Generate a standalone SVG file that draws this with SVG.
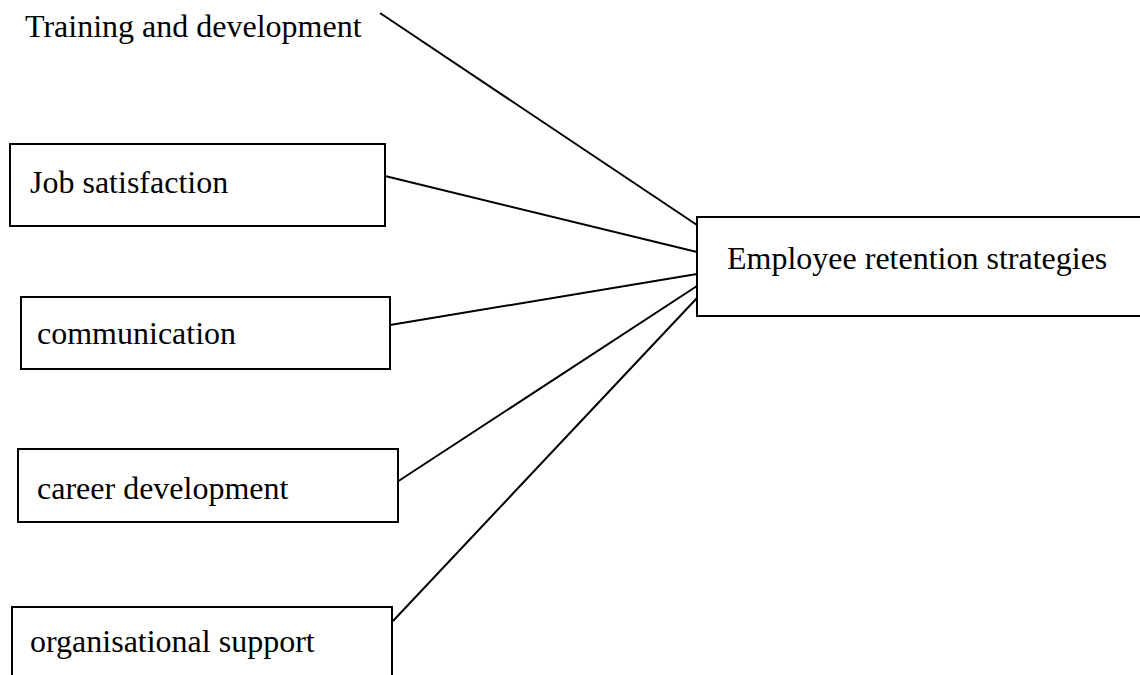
<svg xmlns="http://www.w3.org/2000/svg" width="1140" height="675" viewBox="0 0 1140 675">
  <style>
    .box { fill: #ffffff; stroke: #000000; stroke-width: 2; }
    .lbl { font-family: "Liberation Serif", "Times New Roman", serif; font-size: 32px; fill: #000000; }
    .link { stroke: #000000; stroke-width: 2; fill: none; }
  </style>
  <rect width="1140" height="675" fill="#ffffff"/>

  <!-- connectors into the strategies box -->
  <g id="connectors">
    <line class="link" x1="380" y1="13" x2="697" y2="225"/>
    <line class="link" x1="385" y1="176" x2="697" y2="252"/>
    <line class="link" x1="390" y1="325" x2="697" y2="274"/>
    <line class="link" x1="397" y1="482" x2="697" y2="286"/>
    <line class="link" x1="393" y1="621" x2="697" y2="298"/>
  </g>

  <g id="training">
    <text class="lbl" x="25" y="37">Training and development</text>
  </g>

  <g id="job-satisfaction">
    <rect class="box" x="10" y="144" width="375" height="82"/>
    <text class="lbl" x="30" y="193">Job satisfaction</text>
  </g>

  <g id="communication">
    <rect class="box" x="21" y="297" width="369" height="72"/>
    <text class="lbl" x="37" y="344">communication</text>
  </g>

  <g id="career-development">
    <rect class="box" x="18" y="449" width="380" height="73"/>
    <text class="lbl" x="37" y="499">career development</text>
  </g>

  <g id="organisational-support">
    <path class="box" d="M12,680 V607 H392 V680"/>
    <text class="lbl" x="30" y="652">organisational support</text>
  </g>

  <g id="retention-strategies">
    <path class="box" d="M1145,217 H697 V316 H1145"/>
    <text class="lbl" x="727" y="269">Employee retention strategies</text>
  </g>
</svg>
